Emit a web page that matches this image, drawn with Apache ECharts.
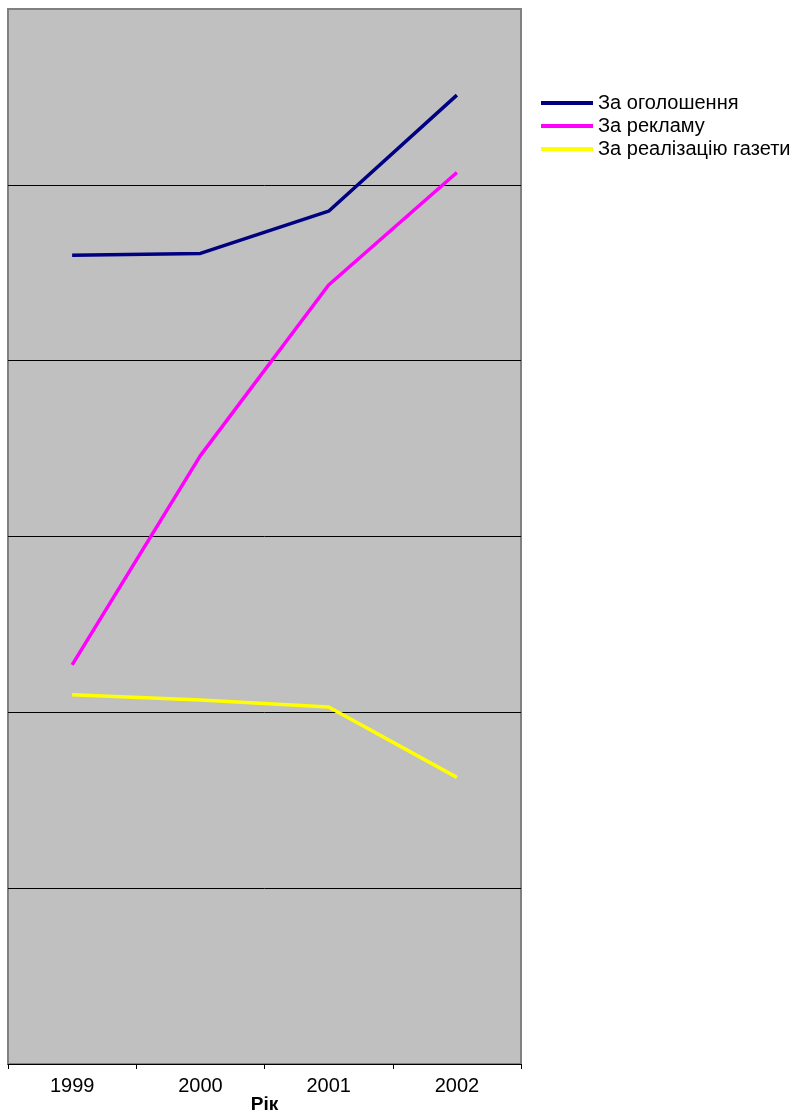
<!DOCTYPE html>
<html><head><meta charset="utf-8">
<script src="https://cdn.jsdelivr.net/npm/echarts@6/dist/echarts.min.js"></script>
<style>html,body{margin:0;padding:0;background:#fff}#c{width:811px;height:1118px}</style>
</head><body><div id="c"></div>
<script>
const categories = ['1999', '2000', '2001', '2002'];
const seriesNames = ['За оголошення', 'За рекламу', 'За реалізацію газети'];
const adsValues = [4.60, 4.61, 4.85, 5.51];
const advertValues = [2.27, 3.46, 4.43, 5.07];
const salesValues = [2.10, 2.07, 2.03, 1.63];
const colors = ['#000080', '#ff00ff', '#ffff00'];

const chart = echarts.init(document.getElementById('c'));
const font = 'Liberation Sans, Arial, sans-serif';
chart.setOption({
  animation: false,
  backgroundColor: '#ffffff',
  grid: {left: 8, top: 9, right: 290, bottom: 54, show: true, outerBoundsMode: 'none', containLabel: false,
    backgroundColor: '#c0c0c0', borderColor: '#808080', borderWidth: 2},
  legend: {
    orient: 'vertical', left: 536, top: 88, itemGap: 3,
    itemWidth: 52, itemHeight: 4, icon: 'rect', itemStyle: {borderWidth: 0},
    textStyle: {fontFamily: font, fontSize: 20, color: '#000'},
    data: seriesNames
  },
  xAxis: {
    type: 'category', data: categories, boundaryGap: true,
    axisLine: {show: true, lineStyle: {color: '#000', width: 1}},
    axisTick: {show: true, length: 5, lineStyle: {color: '#000'}},
    axisLabel: {fontFamily: font, fontSize: 20, color: '#000', margin: 12},
    name: 'Рік', nameLocation: 'middle', nameGap: 31, nameMoveOverlap: false,
    nameTextStyle: {fontFamily: font, fontSize: 19, fontWeight: 'bold', color: '#000', verticalAlign: 'top'}
  },
  yAxis: {
    type: 'value', min: 0, max: 6, interval: 1,
    axisLabel: {show: false}, axisLine: {show: false}, axisTick: {show: false},
    splitLine: {show: true, lineStyle: {color: ['#000', '#000', '#000', '#000', '#000', '#000', '#808080'], width: 1}}
  },
  series: [
    {name: seriesNames[0], type: 'line', data: adsValues, symbol: 'none', lineStyle: {width: 3.5, color: colors[0]}, itemStyle: {color: colors[0]}},
    {name: seriesNames[1], type: 'line', data: advertValues, symbol: 'none', lineStyle: {width: 3.5, color: colors[1]}, itemStyle: {color: colors[1]}},
    {name: seriesNames[2], type: 'line', data: salesValues, symbol: 'none', lineStyle: {width: 3.5, color: colors[2]}, itemStyle: {color: colors[2]}}
  ]
});
</script></body></html>
